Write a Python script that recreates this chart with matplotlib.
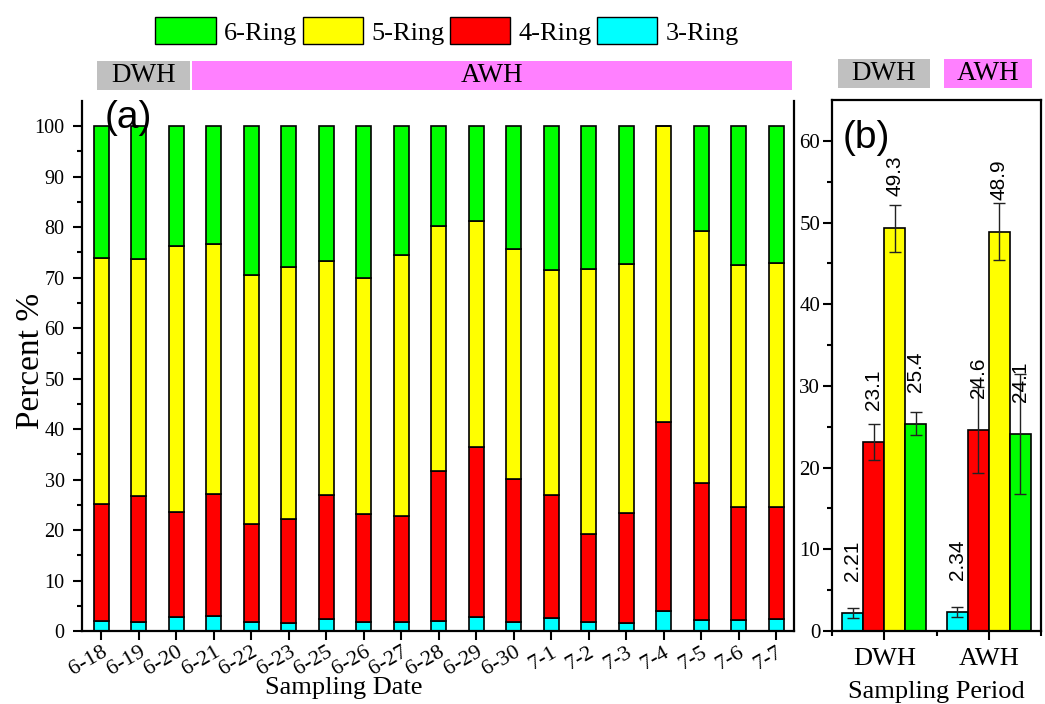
import matplotlib
matplotlib.use('Agg')
import matplotlib.pyplot as plt
from matplotlib.patches import Patch, Rectangle
from matplotlib.ticker import FixedLocator
import numpy as np

# ---- data ----
dates = ['6-18', '6-19', '6-20', '6-21', '6-22', '6-23', '6-25', '6-26', '6-27', '6-28',
         '6-29', '6-30', '7-1', '7-2', '7-3', '7-4', '7-5', '7-6', '7-7']
ring3 = [1.9, 1.7, 2.8, 3.0, 1.7, 1.6, 2.3, 1.8, 1.8, 2.0, 2.8, 1.8, 2.6, 1.8, 1.6, 4.0, 2.2, 2.1, 2.3]
ring4 = [23.3, 25.1, 20.7, 24.2, 19.5, 20.5, 24.7, 21.4, 20.9, 29.6, 33.6, 28.3, 24.3, 17.4, 21.7, 37.5, 27.2, 22.4, 22.3]
ring5 = [48.6, 46.8, 52.8, 49.5, 49.3, 50.0, 46.3, 46.8, 51.7, 48.6, 44.8, 45.5, 44.6, 52.6, 49.4, 58.5, 49.9, 48.1, 48.4]
ring6 = [26.2, 26.4, 23.7, 23.3, 29.5, 27.9, 26.7, 30.0, 25.6, 19.8, 18.8, 24.4, 28.5, 28.2, 27.3, 0.0, 20.7, 27.4, 27.0]

periods = ['DWH', 'AWH']
mean3 = [2.21, 2.34]
mean4 = [23.1, 24.6]
mean5 = [49.3, 48.9]
mean6 = [25.4, 24.1]
err3 = [0.6, 0.6]
err4 = [2.2, 5.3]
err5 = [2.9, 3.5]
err6 = [1.4, 7.3]

ring_names = ['3-Ring', '4-Ring', '5-Ring', '6-Ring']
ring_colors = ['#00FFFF', '#FF0000', '#FFFF00', '#00FF00']

plt.rcParams['font.family'] = ['Liberation Serif', 'DejaVu Serif']
sans = 'Liberation Sans'

W, H = 1045, 704
fig = plt.figure(figsize=(W / 100, H / 100), dpi=100)


def fx(px):
    return px / W


def fy(py):
    return 1 - py / H


ax1 = fig.add_axes([fx(82), fy(631), fx(794) - fx(82), fy(101) - fy(631)])
ax2 = fig.add_axes([fx(832), fy(631), fx(1041) - fx(832), fy(100) - fy(631)])

# ---- panel (a): stacked bars ----
x = np.arange(len(dates))
bottom = np.zeros(len(dates))
for vals, c in zip([ring3, ring4, ring5, ring6], ring_colors):
    ax1.bar(x, vals, 0.4, bottom=bottom, color=c, edgecolor='black', linewidth=1.2)
    bottom += np.array(vals)

ax1.set_xlim(-0.52, 18.48)
ax1.set_ylim(0, 105)
ax1.set_yticks(range(0, 101, 10))
ax1.yaxis.set_minor_locator(FixedLocator(range(5, 100, 10)))
ax1.set_xticks(x)
ax1.set_xticklabels(dates, rotation=30, ha='right', va='top', rotation_mode='anchor')
ax1.spines['top'].set_visible(False)
for s in ax1.spines.values():
    s.set_linewidth(1.6)
ax1.tick_params(which='major', direction='out', length=6.5, width=1.5, labelsize=14.5, pad=6)
ax1.tick_params(which='minor', direction='out', length=3.5, width=1.5)
ax1.tick_params(axis='x', labelsize=16, pad=2)
ax1.set_ylabel('Percent %', fontsize=24)
ax1.yaxis.set_label_coords(-0.05, 0.51)
ax1.set_xlabel('Sampling Date', fontsize=19)
ax1.xaxis.set_label_coords(0.368, -0.087)
ax1.text(0.065, 0.968, '(a)', transform=ax1.transAxes, fontsize=28, family=sans,
         ha='center', va='center')

# ---- panel (b): grouped bars with error bars ----
xp = np.arange(1, len(periods) + 1)
offsets = [-0.3, -0.1, 0.1, 0.3]
for means, errs, c, off in zip([mean3, mean4, mean5, mean6], [err3, err4, err5, err6],
                               ring_colors, offsets):
    ax2.bar(xp + off, means, 0.2, color=c, edgecolor='black', linewidth=1.2,
            yerr=errs, capsize=4, error_kw=dict(ecolor='#222222', elinewidth=1, capthick=1))
    for xi, m in zip(xp + off, means):
        ax2.annotate(f'{m:g}', (xi, m), xytext=(0, 23), textcoords='offset points',
                     rotation=90, ha='center', va='bottom', fontsize=15, family=sans)

ax2.set_xlim(0.5, 2.5)
ax2.set_ylim(0, 65)
ax2.set_yticks(range(0, 61, 10))
ax2.yaxis.set_minor_locator(FixedLocator(range(5, 65, 10)))
ax2.set_xticks(xp)
ax2.set_xticklabels(periods)
ax2.xaxis.set_minor_locator(FixedLocator([0.5, 1.5, 2.5]))
for s in ax2.spines.values():
    s.set_linewidth(1.6)
ax2.tick_params(which='major', direction='out', length=6.5, width=1.5, labelsize=15, pad=2)
ax2.tick_params(which='minor', direction='out', length=3.5, width=1.5)
ax2.tick_params(axis='x', labelsize=19, pad=6)
ax2.set_xlabel('Sampling Period', fontsize=19)
ax2.xaxis.set_label_coords(0.5, -0.094)
ax2.text(0.163, 0.928, '(b)', transform=ax2.transAxes, fontsize=28, family=sans,
         ha='center', va='center')

# ---- period bands above the panels ----
bands = [(97, 190, 61, 90, '#C0C0C0', 'DWH'),
         (192, 792, 61, 90, '#FF80FF', 'AWH'),
         (838, 930, 59, 88, '#C0C0C0', 'DWH'),
         (944, 1032, 59, 88, '#FF80FF', 'AWH')]
for x0, x1, y0, y1, c, lab in bands:
    fig.patches.append(Rectangle((fx(x0), fy(y1)), fx(x1) - fx(x0), fy(y0) - fy(y1),
                                 transform=fig.transFigure, facecolor=c, edgecolor='none'))
    fig.text(fx((x0 + x1) / 2), fy((y0 + y1) / 2), lab, fontsize=19.5, ha='center', va='center')

# ---- legend ----
handles = [Patch(facecolor=c, edgecolor='black', label=n)
           for n, c in zip(ring_names[::-1], ring_colors[::-1])]
fig.legend(handles=handles, loc='center', bbox_to_anchor=(fx(447), fy(31)), ncol=4,
           frameon=False, fontsize=19, handlelength=2.3, handleheight=1.2,
           handletextpad=0.3, columnspacing=0.2, borderpad=0)

fig.savefig('out.png', dpi=100)
